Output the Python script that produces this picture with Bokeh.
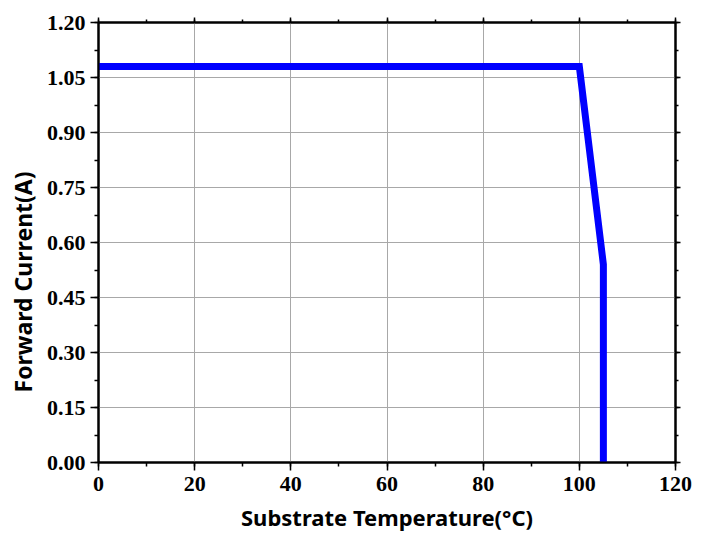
from bokeh.plotting import figure
from bokeh.models import LinearAxis, Range1d, SingleIntervalTicker, CustomJSTickFormatter, Title
from bokeh.embed import file_html
from bokeh.resources import INLINE

# Derating curve: forward current vs. substrate temperature
temperature = [0, 100, 105, 105]
forward_current = [1.08, 1.08, 0.54, 0.0]

x_ticks = [0, 20, 40, 60, 80, 100, 120]
y_ticks = [0.00, 0.15, 0.30, 0.45, 0.60, 0.75, 0.90, 1.05, 1.20]

p = figure(width=710, height=539, output_backend="svg", toolbar_location=None,
           x_range=Range1d(x_ticks[0], x_ticks[-1]),
           y_range=Range1d(y_ticks[0], y_ticks[-1]),
           x_axis_location=None, y_axis_location=None,
           min_border_left=98, min_border_right=35,
           min_border_top=22, min_border_bottom=77)
p.background_fill_color = "white"
p.border_fill_color = "white"
p.outline_line_color = "black"
p.outline_line_width = 2

xt = SingleIntervalTicker(interval=20, num_minor_ticks=2)
yt = SingleIntervalTicker(interval=0.15, num_minor_ticks=2)

label_font = "Liberation Serif"
title_font = "Noto Sans"


def style_axis(ax, show_labels):
    ax.axis_line_color = "black"
    ax.axis_line_width = 2
    ax.major_tick_line_color = "black"
    ax.major_tick_line_width = 1.5
    ax.minor_tick_line_color = "black"
    ax.minor_tick_line_width = 1.5
    ax.major_tick_in = 0
    ax.minor_tick_in = 0
    ax.major_tick_out = 8
    ax.minor_tick_out = 4
    ax.major_label_text_font = label_font
    ax.major_label_text_font_style = "bold"
    ax.major_label_text_font_size = "22px"
    ax.major_label_text_color = "black"
    if not show_labels:
        ax.major_label_text_font_size = "0px"
        ax.major_label_text_alpha = 0


xb = LinearAxis(ticker=xt, axis_label="Substrate Temperature(°C)")
style_axis(xb, True)
xb.major_label_standoff = 6
xb.axis_label_standoff = 8
xb.axis_label_text_font = title_font
xb.axis_label_text_font_style = "bold"
xb.axis_label_text_font_size = "22px"
xb.axis_label_text_color = "black"
p.add_layout(xb, "below")

yl = LinearAxis(ticker=yt,
                formatter=CustomJSTickFormatter(code="return tick.toFixed(2);"))
style_axis(yl, True)
yl.major_label_standoff = 5
p.add_layout(yl, "left")

# Y-axis title, starting a fixed distance above the frame's bottom edge
p.add_layout(Title(text="Forward Current(A)", align="left", offset=70,
                   text_font=title_font, text_font_style="bold",
                   text_font_size="23px", text_color="black",
                   standoff=9), "left")

xtop = LinearAxis(ticker=xt)
style_axis(xtop, False)
xtop.major_tick_out = 5
xtop.minor_tick_out = 3
p.add_layout(xtop, "above")

yr = LinearAxis(ticker=yt)
style_axis(yr, False)
yr.major_tick_out = 5
yr.minor_tick_out = 3
p.add_layout(yr, "right")

p.xgrid.ticker = xt
p.ygrid.ticker = yt
p.xgrid.grid_line_color = "#a8a8a8"
p.ygrid.grid_line_color = "#a8a8a8"
p.xgrid.grid_line_width = 1
p.ygrid.grid_line_width = 1

p.line(temperature, forward_current, line_color="#0000ff", line_width=7,
       line_join="miter", line_cap="square")

open("out.html", "w").write(file_html(p, INLINE))
